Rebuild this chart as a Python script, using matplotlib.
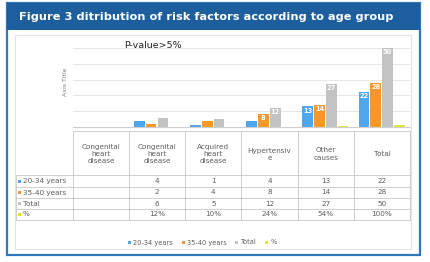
import numpy as np
import matplotlib
matplotlib.use("Agg")
import matplotlib.pyplot as plt
from matplotlib.patches import Rectangle

# data
categories = ["Congenital\nheart\ndisease", "Congenital\nheart\ndisease", "Acquired\nheart\ndisease",
              "Hypertensiv\ne", "Other\ncauses", "Total"]
series_names = ["20-34 years", "35-40 years", "Total", "%"]
age_20_34 = [np.nan, 4, 1, 4, 13, 22]
age_35_40 = [np.nan, 2, 4, 8, 14, 28]
total = [np.nan, 6, 5, 12, 27, 50]
percent = [np.nan, 0.12, 0.10, 0.24, 0.54, 1.00]
percent_labels = ["", "12%", "10%", "24%", "54%", "100%"]
colors = ["#4ea6ec", "#f5972a", "#c3c3c3", "#dfe635"]

W, H = 431, 262
fig = plt.figure(figsize=(W / 100, H / 100), dpi=100)
fig.patch.set_facecolor("white")

# background axes in pixel coords (y down)
bg = fig.add_axes([0, 0, 1, 1])
bg.set_xlim(0, W)
bg.set_ylim(H, 0)
bg.axis("off")

blue = "#1d5f9e"
bg.add_patch(Rectangle((7, 3), 413, 252, fill=False, ec="#2f78be", lw=1.6))
bg.add_patch(Rectangle((7, 3), 413, 27, fc=blue, ec=blue, lw=0))
bg.text(19, 17, "Figure 3 ditribution of risk factors according to age group",
        color="white", fontsize=8.2, fontweight="bold", va="center", ha="left")
bg.add_patch(Rectangle((15, 35), 396, 214, fill=False, ec="#e4e4e4", lw=0.8))

bg.text(66, 82, "Axis Title", rotation=90, fontsize=4.5, color="#7f7f7f", ha="center", va="center")
bg.text(124, 46, "P-value>5%", fontsize=6.8, color="#222222", ha="left", va="center")

# bar chart
x0, x1, base, top = 73, 410, 127, 40
ax = fig.add_axes([x0 / W, (H - base) / H, (x1 - x0) / W, (base - top) / H])
ax.set_xlim(-0.5, len(categories) - 0.5)
ax.set_ylim(0, 55)
ax.set_yticks([10, 20, 30, 40, 50])
ax.grid(axis="y", color="#e6e6e6", lw=0.7)
ax.set_axisbelow(True)
ax.tick_params(left=False, bottom=False, labelleft=False, labelbottom=False)
for s in ["top", "right", "left"]:
    ax.spines[s].set_visible(False)
ax.spines["bottom"].set_color("#cfcfcf")
ax.patch.set_alpha(0)

idx = np.arange(len(categories))
offsets = [-0.32, -0.11, 0.10, 0.31]
width = 0.19
for vals, off, c in zip([age_20_34, age_35_40, total, percent], offsets, colors):
    bars = ax.bar(idx + off, vals, width=width, color=c)
    if c != colors[3]:
        for b, v in zip(bars, vals):
            if not np.isnan(v) and v >= 8:
                ax.text(b.get_x() + b.get_width() / 2, v - 2.6, "%d" % v, color="white",
                        fontsize=4.8, ha="center", va="center", fontweight="bold")

# data table
col_w = (x1 - x0) / len(categories)
line_c = "#c8c8c8"
txt_c = "#5e5e5e"
head_top, head_bot = 131, 175
row_edges = [175, 187, 198, 209, 220]
rows = [[("" if np.isnan(v) else "%d" % v) for v in age_20_34],
        [("" if np.isnan(v) else "%d" % v) for v in age_35_40],
        [("" if np.isnan(v) else "%d" % v) for v in total],
        percent_labels]

for i in range(len(categories) + 1):
    xx = x0 + i * col_w
    bg.plot([xx, xx], [head_top, row_edges[-1]], color=line_c, lw=0.6)
bg.plot([x0, x1], [head_top, head_top], color=line_c, lw=0.6)
for y in row_edges:
    bg.plot([16, x1], [y, y], color=line_c, lw=0.6)
bg.plot([16, 16], [row_edges[0], row_edges[-1]], color=line_c, lw=0.6)

fs = 5.2
for i, cat in enumerate(categories):
    bg.text(x0 + (i + 0.5) * col_w, (head_top + head_bot) / 2 + 1, cat, fontsize=fs, color=txt_c,
            ha="center", va="center", linespacing=1.2)
for r, (name, c, row) in enumerate(zip(series_names, colors, rows)):
    yc = (row_edges[r] + row_edges[r + 1]) / 2
    bg.add_patch(Rectangle((18, yc - 1.5), 3, 3, fc=c, ec="none"))
    bg.text(23, yc, name, fontsize=fs, color=txt_c, ha="left", va="center")
    for i, t in enumerate(row):
        bg.text(x0 + (i + 0.5) * col_w, yc, t, fontsize=fs, color=txt_c, ha="center", va="center")

# legend, spaced by measured text width
renderer = fig.canvas.get_renderer()
lx = 128
for name, c in zip(series_names, colors):
    bg.add_patch(Rectangle((lx, 241), 3, 3, fc=c, ec="none"))
    t = bg.text(lx + 5, 242.5, name, fontsize=4.8, color=txt_c, ha="left", va="center")
    tw = t.get_window_extent(renderer=renderer).width
    lx += 5 + tw + 9

fig.savefig("out.png", dpi=100)
